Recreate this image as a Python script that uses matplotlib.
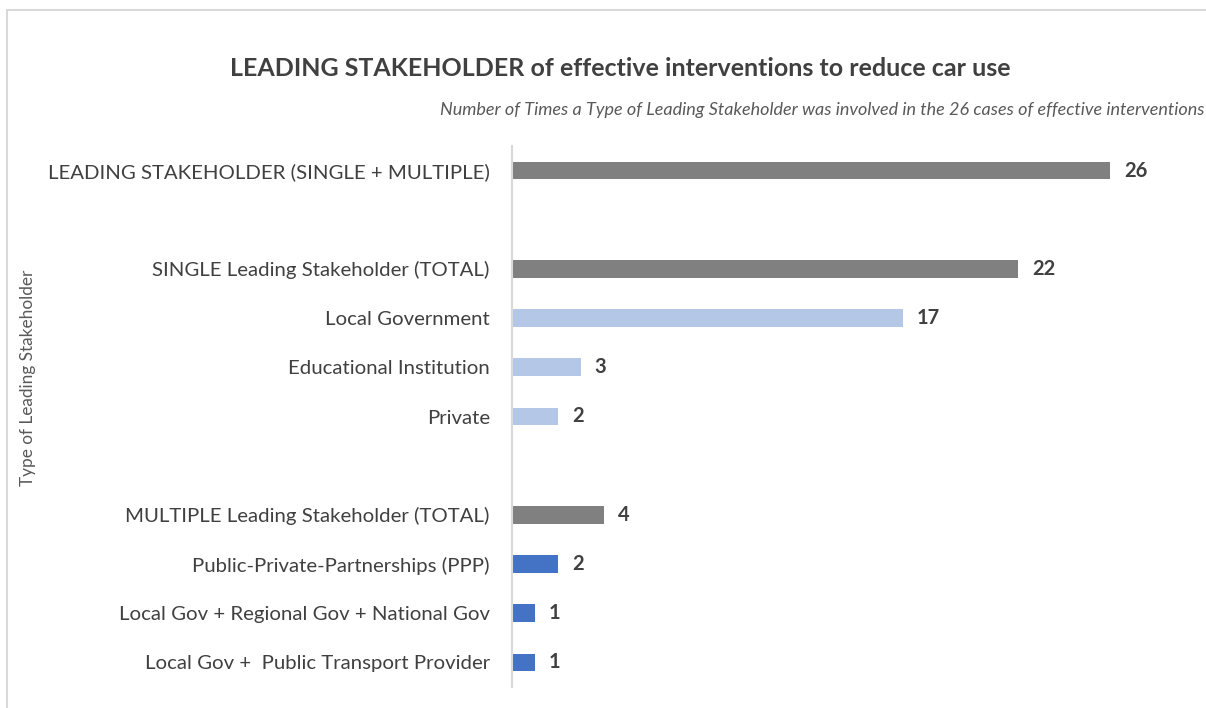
import matplotlib
matplotlib.use("Agg")
import matplotlib.pyplot as plt
from matplotlib.patches import Rectangle

# ---- data ----
TOTAL_LABEL = "LEADING STAKEHOLDER (SINGLE + MULTIPLE)"
TOTAL_VALUE = 26

SINGLE_LABELS = ["SINGLE Leading Stakeholder (TOTAL)", "Local Government",
                 "Educational Institution", "Private"]
SINGLE_VALUES = [22, 17, 3, 2]

MULTI_LABELS = ["MULTIPLE Leading Stakeholder (TOTAL)",
                "Public-Private-Partnerships (PPP)",
                "Local Gov + Regional Gov + National Gov",
                "Local Gov +  Public Transport Provider"]
MULTI_VALUES = [4, 2, 1, 1]

GRAY = "#808080"
LIGHT = "#B4C7E7"
BLUE = "#4472C4"
TEXT = "#404040"

plt.rcParams["font.family"] = ["Lato", "DejaVu Sans"]

# rows top-to-bottom, with a blank spacer row between groups
rows = [(TOTAL_LABEL, TOTAL_VALUE, GRAY), ("", None, None)]
rows += [(l, v, GRAY if i == 0 else LIGHT)
         for i, (l, v) in enumerate(zip(SINGLE_LABELS, SINGLE_VALUES))]
rows += [("", None, None)]
rows += [(l, v, GRAY if i == 0 else BLUE)
         for i, (l, v) in enumerate(zip(MULTI_LABELS, MULTI_VALUES))]

fig = plt.figure(figsize=(12.06, 7.08), dpi=100)
ax = fig.add_axes([512 / 1206, 1 - 687 / 708, 690 / 1206, 541 / 708])

for i, (lab, val, col) in enumerate(rows):
    if val is None:
        continue
    ax.barh(i, val, height=0.36, color=col)
    ax.text(val + 0.6, i, str(val), va="center", ha="left",
            fontsize=14.5, fontweight="bold", color=TEXT)

ax.set_yticks(range(len(rows)))
ax.set_yticklabels([r[0] for r in rows], fontsize=14.7, color=TEXT)
ax.tick_params(axis="y", length=0, pad=16)
ax.set_ylim(len(rows) - 0.5, -0.5)
ax.set_xlim(0, 30)
ax.set_xticks([])
for s in ["top", "right", "bottom"]:
    ax.spines[s].set_visible(False)
ax.spines["left"].set_color("#D9D9D9")
ax.spines["left"].set_linewidth(1.5)

fig.text(28 / 1206, 1 - 378 / 708, "Type of Leading Stakeholder", rotation=90,
         va="center", ha="center", fontsize=12.4, color="#595959")

fig.text(620 / 1206, 1 - 68 / 708,
         "LEADING STAKEHOLDER of effective interventions to reduce car use",
         ha="center", va="center", fontsize=18, fontweight="bold", color=TEXT)
fig.text(440 / 1206, 1 - 110 / 708,
         "Number of Times a Type of Leading Stakeholder was involved in the 26 cases of effective interventions",
         ha="left", va="center", fontsize=13, style="italic", color="#595959")

# chart frame
fig.patches.append(Rectangle((7 / 1206, -0.05), 1.0, 1 - 10 / 708 + 0.05,
                             transform=fig.transFigure, fill=False,
                             edgecolor="#D9D9D9", linewidth=1.5))

fig.savefig("out.png", dpi=100)
